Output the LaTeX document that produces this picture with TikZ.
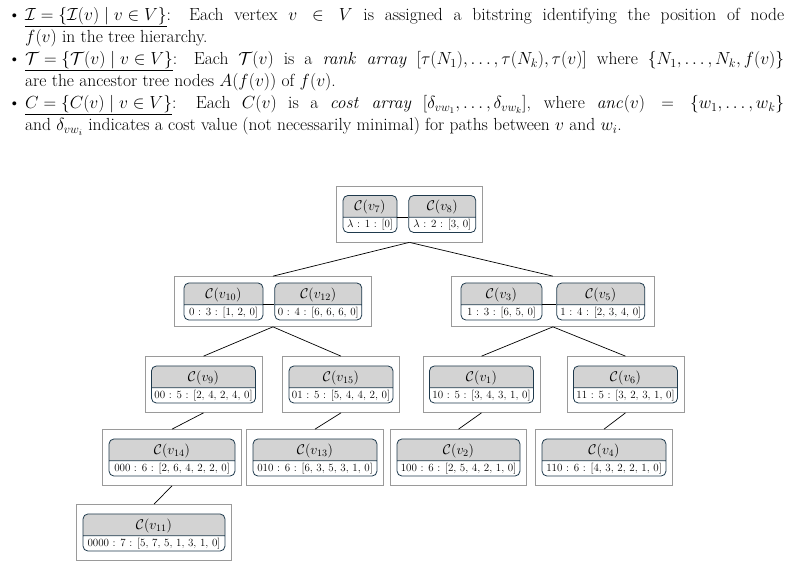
\RequirePackage{fix-cm}
\documentclass[tikz,border=0pt]{standalone}
\usepackage{tikz}
\usetikzlibrary{positioning,shapes.multipart,fit}
\definecolor{ink}{HTML}{1F3A4D}
\definecolor{cell}{HTML}{D3D3D3}
\definecolor{frame}{HTML}{9A9A9A}
\newcommand{\itm}{\par\noindent\hangindent=17pt\hangafter=1\makebox[17pt][l]{\textbullet}}
\newcommand{\costtop}{\fontsize{14}{21}\selectfont\strut}
\newcommand{\costlow}{\fontsize{11}{14.5}\selectfont\strut}

\begin{document}
\begin{tikzpicture}[x=1pt, y=-1pt,
  defs/.style={anchor=north west, inner sep=0pt, text width=776pt, align=justify,
    font=\fontsize{17.5}{22}\selectfont},
  cost/.style={rectangle split, rectangle split parts=2, draw=ink, line width=0.8pt,
    rounded corners=5pt, rectangle split part fill={cell,white}, inner xsep=3pt, inner ysep=0pt},
  group/.style={draw=frame, line width=0.8pt, inner xsep=6pt, inner ysep=9pt},
  link/.style={line width=0.7pt, black},
]
  \useasboundingbox (0,0) rectangle (796,566);

  \node[defs] (defs) at (8,-1.5) {%
    \itm\underline{$\mathcal{I}=\{\mathcal{I}(v)\mid v\in V\}$}: Each vertex $v\in V$ is assigned a bitstring identifying the position of node\linebreak
    $f(v)$ in the tree hierarchy.
    \itm\underline{$\mathcal{T}=\{\mathcal{T}(v)\mid v\in V\}$}: Each $\mathcal{T}(v)$ is a \emph{rank array} $[\tau(N_1),\dots,\tau(N_k),\tau(v)]$ where $\{N_1,\dots,N_k,f(v)\}$\linebreak
    are the ancestor tree nodes $A(f(v))$ of $f(v)$.
    \itm\underline{$C=\{C(v)\mid v\in V\}$}: Each $C(v)$ is a \emph{cost array} $[\delta_{vw_1},\dots,\delta_{vw_k}]$, where $\mathit{anc}(v)=\{w_1,\dots,w_k\}$\linebreak
    and $\delta_{vw_i}$ indicates a cost value (not necessarily minimal) for paths between $v$ and $w_i$.\par};

  % level 1
  \node[cost, minimum width=54pt] (v7) at (370,214) {\costtop$\mathcal{C}(v_{7})$\nodepart{two}\costlow$\lambda$ : 1 : [0]};
  \node[cost, minimum width=67pt, right=11pt of v7] (v8) {\costtop$\mathcal{C}(v_{8})$\nodepart{two}\costlow$\lambda$ : 2 : [3, 0]};
  % level 2
  \node[cost, minimum width=79pt] (v10) at (223.5,301.5) {\costtop$\mathcal{C}(v_{10})$\nodepart{two}\costlow0 : 3 : [1, 2, 0]};
  \node[cost, minimum width=87pt, right=11pt of v10] (v12) {\costtop$\mathcal{C}(v_{12})$\nodepart{two}\costlow0 : 4 : [6, 6, 6, 0]};
  \node[cost, minimum width=81pt] (v3) at (501.5,301.5) {\costtop$\mathcal{C}(v_{3})$\nodepart{two}\costlow1 : 3 : [6, 5, 0]};
  \node[cost, minimum width=88pt, right=14pt of v3] (v5) {\costtop$\mathcal{C}(v_{5})$\nodepart{two}\costlow1 : 4 : [2, 3, 4, 0]};
  % level 3
  \node[cost, minimum width=103pt] (v9) at (203.5,384.5) {\costtop$\mathcal{C}(v_{9})$\nodepart{two}\costlow00 : 5 : [2, 4, 2, 4, 0]};
  \node[cost, minimum width=104pt] (v15) at (341,384.5) {\costtop$\mathcal{C}(v_{15})$\nodepart{two}\costlow01 : 5 : [5, 4, 4, 2, 0]};
  \node[cost, minimum width=103pt] (v1) at (481.5,384.5) {\costtop$\mathcal{C}(v_{1})$\nodepart{two}\costlow10 : 5 : [3, 4, 3, 1, 0]};
  \node[cost, minimum width=103pt] (v6) at (625.5,384.5) {\costtop$\mathcal{C}(v_{6})$\nodepart{two}\costlow11 : 5 : [3, 2, 3, 1, 0]};
  % level 4
  \node[cost, minimum width=126pt] (v14) at (172,457.5) {\costtop$\mathcal{C}(v_{14})$\nodepart{two}\costlow000 : 6 : [2, 6, 4, 2, 2, 0]};
  \node[cost, minimum width=124pt] (v13) at (315,457.5) {\costtop$\mathcal{C}(v_{13})$\nodepart{two}\costlow010 : 6 : [6, 3, 5, 3, 1, 0]};
  \node[cost, minimum width=123pt] (v2) at (458.5,457.5) {\costtop$\mathcal{C}(v_{2})$\nodepart{two}\costlow100 : 6 : [2, 5, 4, 2, 1, 0]};
  \node[cost, minimum width=124pt] (v4) at (604,457.5) {\costtop$\mathcal{C}(v_{4})$\nodepart{two}\costlow110 : 6 : [4, 3, 2, 2, 1, 0]};
  % level 5
  \node[cost, minimum width=142pt] (v11) at (154,532.5) {\costtop$\mathcal{C}(v_{11})$\nodepart{two}\costlow0000 : 7 : [5, 7, 5, 1, 3, 1, 0]};

  % tree nodes
  \node[group, fit=(v7)(v8)] (grp78) {};
  \node[group, inner xsep=9pt, inner ysep=6pt, fit=(v10)(v12)] (grp1012) {};
  \node[group, inner xsep=9pt, inner ysep=6pt, fit=(v3)(v5)] (grp35) {};
  \node[group, fit=(v9)] (grp9) {};
  \node[group, fit=(v15)] (grp15) {};
  \node[group, fit=(v1)] (grp1) {};
  \node[group, fit=(v6)] (grp6) {};
  \node[group, fit=(v14)] (grp14) {};
  \node[group, fit=(v13)] (grp13) {};
  \node[group, fit=(v2)] (grp2) {};
  \node[group, fit=(v4)] (grp4) {};
  \node[group, fit=(v11)] (grp11) {};

  \draw[link] (v7.text split east) -- (v8.text split west);
  \draw[link] (v10.text split east) -- (v12.text split west);
  \draw[link] (v3.text split east) -- (v5.text split west);

  \draw[link] (grp78.south) -- (grp1012.north);
  \draw[link] (grp78.south) -- (grp35.north);
  \draw[link] (grp1012.south) -- (grp9.north);
  \draw[link] (grp1012.south) -- (grp15.north);
  \draw[link] (grp35.south) -- (grp1.north);
  \draw[link] (grp35.south) -- (grp6.north);
  \draw[link] (grp9.south) -- (grp14.north);
  \draw[link] (grp15.south) -- (grp13.north);
  \draw[link] (grp1.south) -- (grp2.north);
  \draw[link] (grp6.south) -- (grp4.north);
  \draw[link] (grp14.south) -- (grp11.north);
\end{tikzpicture}
\end{document}
